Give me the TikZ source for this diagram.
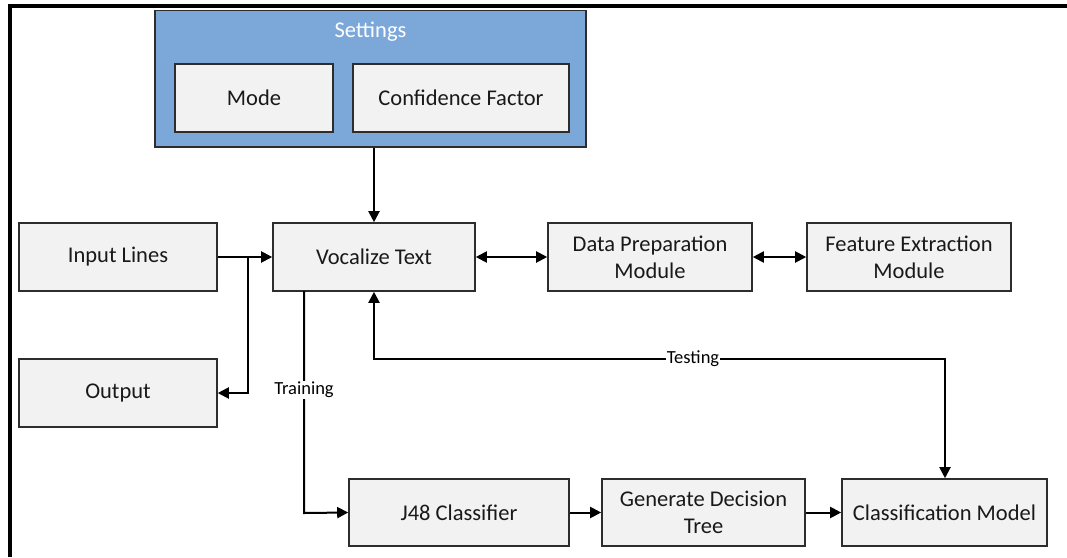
\documentclass[tikz,border=0pt]{standalone}
\usepackage{fontspec}
\setmainfont{Carlito}
\usetikzlibrary{arrows.meta}
\definecolor{setblue}{RGB}{123,167,217}
\definecolor{boxfill}{RGB}{242,242,242}
\definecolor{boxline}{RGB}{45,45,45}
\tikzset{
  blk/.style={draw=boxline, line width=1.6pt, fill=boxfill, inner sep=0pt, align=center,
    font=\fontsize{22.5}{27}\selectfont, text=black!90},
  conn/.style={line width=2pt, -{Triangle[length=11pt,width=11pt]}},
  dconn/.style={line width=2pt, {Triangle[length=11pt,width=11pt]}-{Triangle[length=11pt,width=11pt]}},
  lbl/.style={fill=white, inner sep=1pt, font=\fontsize{18.5}{21}\selectfont},
}
\begin{document}
\begin{tikzpicture}[x=1pt,y=-1pt]
\useasboundingbox (0,0) rectangle (1067,557);
% frame
\draw[line width=3.5pt] (10,557) -- (10,6) -- (1067,6);
% settings group
\node[draw=boxline, line width=1.6pt, fill=setblue, minimum width=431pt, minimum height=136.5pt, inner sep=0pt] (settings) at (370.5,78.75) {};
\node[text=white, font=\fontsize{22.5}{27}\selectfont] (settingslbl) at (370.5,32) {Settings};
\node[blk, minimum width=158pt, minimum height=68pt] (mode) at (254,98) {Mode};
\node[blk, minimum width=216pt, minimum height=68pt] (conf) at (461,98) {Confidence Factor};
% main row
\node[blk, minimum width=198pt, minimum height=68pt] (input) at (118,257) {Input Lines};
\node[blk, minimum width=202pt, minimum height=68pt] (voc) at (374,257) {Vocalize Text};
\node[blk, minimum width=204pt, minimum height=68pt] (prep) at (650,257) {Data Preparation\\Module};
\node[blk, minimum width=204pt, minimum height=68pt] (feat) at (909,257) {Feature Extraction\\Module};
\node[blk, minimum width=198pt, minimum height=68pt] (output) at (118,393) {Output};
% bottom row
\node[blk, minimum width=220pt, minimum height=67pt] (j48) at (459,512.5) {J48 Classifier};
\node[blk, minimum width=203pt, minimum height=67pt] (gen) at (703.5,512.5) {Generate Decision\\Tree};
\node[blk, minimum width=205pt, minimum height=67pt] (cls) at (944.5,512.5) {Classification Model};
% helper coordinates
\coordinate (junc) at (248,257);
\coordinate (trainTop) at (304,291);
\coordinate (trainBot) at (304,513);
\coordinate (testCorner) at (945,359);
% connectors
\draw[conn] (voc.north |- settings.south) -- (voc.north);
\draw[conn] (input.east) -- (voc.west);
\draw[conn] (junc) |- (output.east);
\draw[dconn] (voc.east) -- (prep.west);
\draw[dconn] (prep.east) -- (feat.west);
\draw[conn] (trainTop) -- (trainBot) -- (j48.west);
\node[lbl] (trainlbl) at (304,390) {Training};
\draw[dconn] (cls.north -| testCorner) -- (testCorner) -- (testCorner -| voc.south) -- (voc.south);
\node[lbl] (testlbl) at (693,359) {Testing};
\draw[conn] (j48.east) -- (gen.west);
\draw[conn] (gen.east) -- (cls.west);
\end{tikzpicture}
\end{document}
